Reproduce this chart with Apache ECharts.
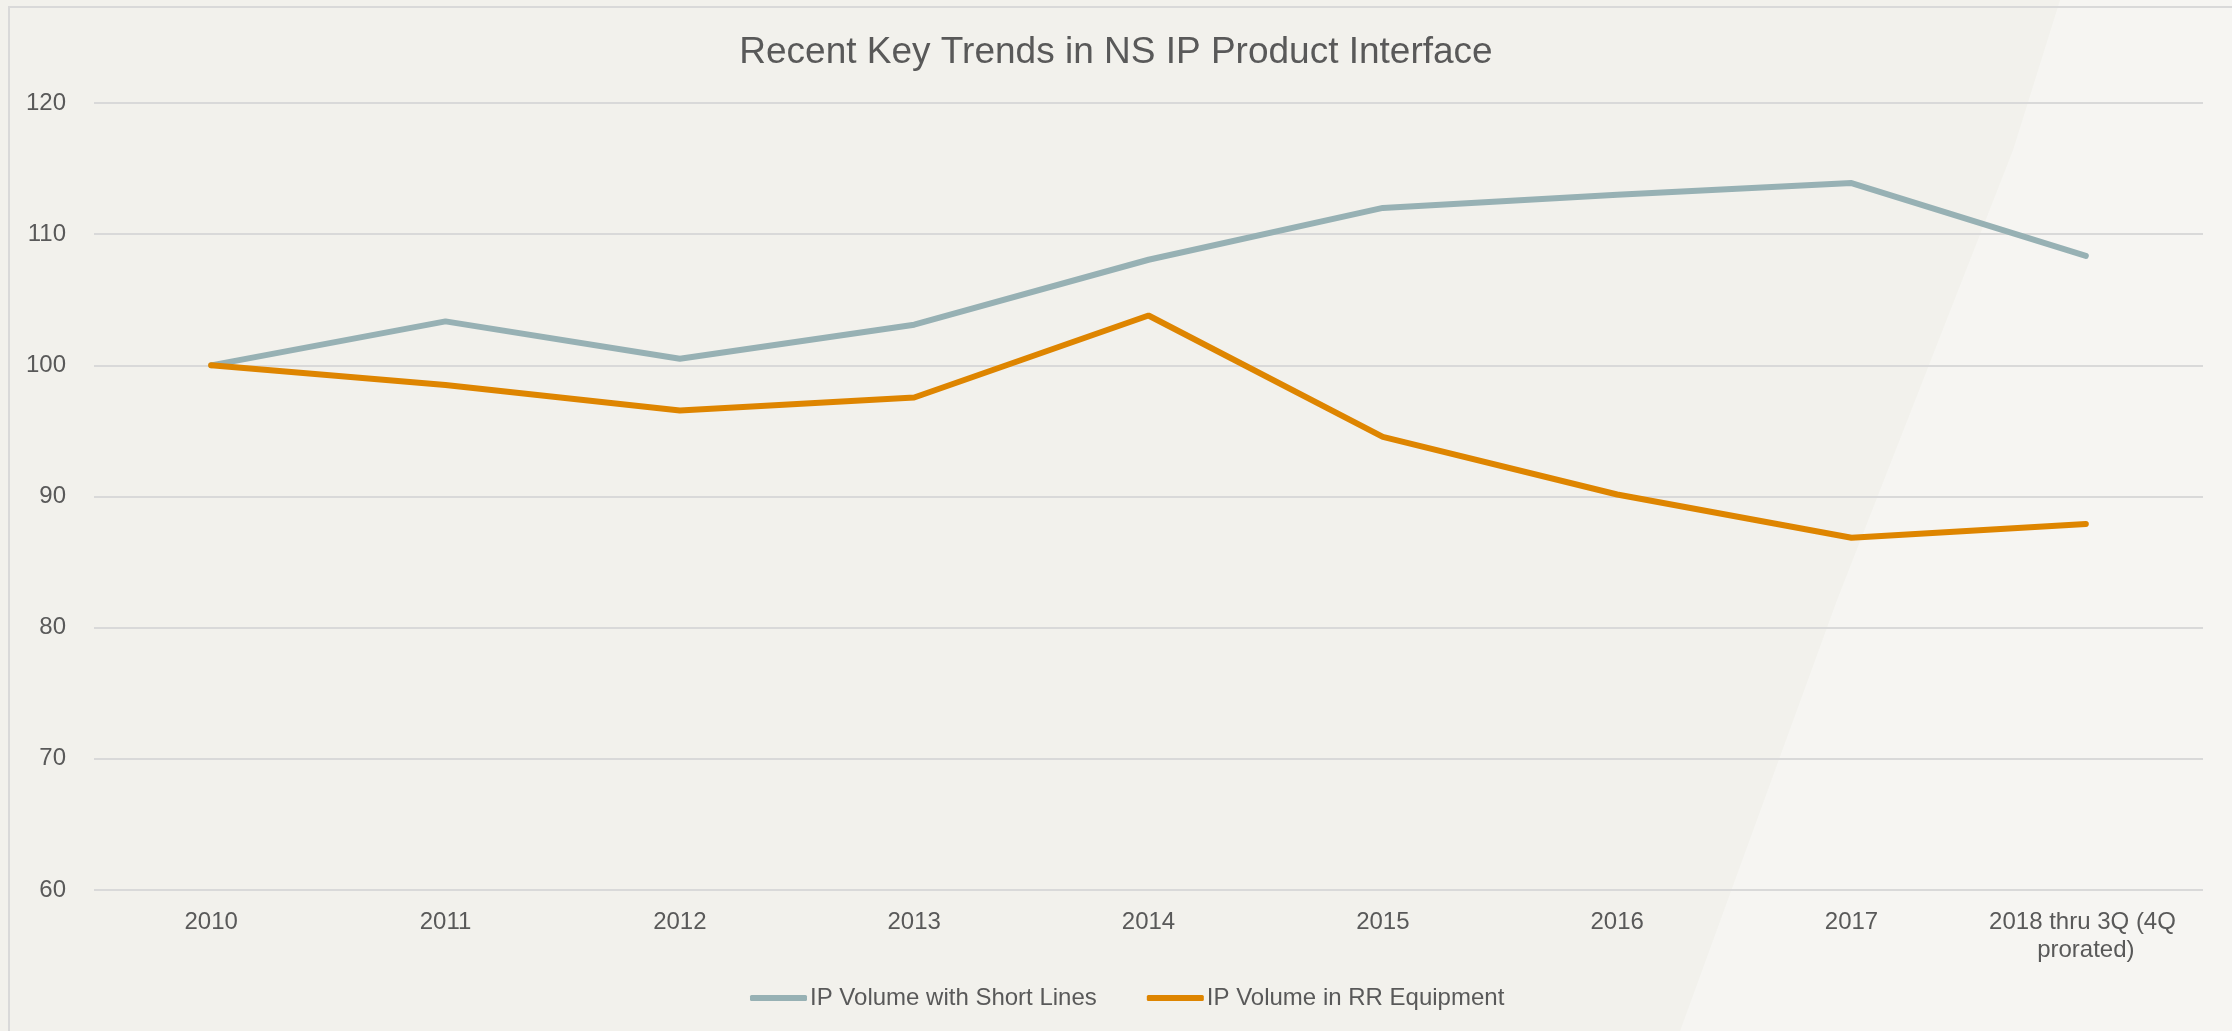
<!DOCTYPE html>
<html>
<head>
<meta charset="utf-8">
<style>
  html, body { margin: 0; padding: 0; background: #F2F1EC; }
  #main { width: 2232px; height: 1031px; }
</style>
<script src="https://cdn.jsdelivr.net/npm/echarts@6/dist/echarts.min.js"></script>
</head>
<body>
<div id="main"></div>
<script>
// categories and index values
const years = ['2010', '2011', '2012', '2013', '2014', '2015', '2016', '2017', '2018 thru 3Q (4Q prorated)'];
const shortLines = [100, 103.35, 100.5, 103.1, 108.05, 112.0, 113.0, 113.9, 108.35];
const rrEquipment = [100, 98.5, 96.55, 97.55, 103.8, 94.55, 90.15, 86.85, 87.9];
const yTicks = { min: 60, max: 120, step: 10 };

const chart = echarts.init(document.getElementById('main'));
const txt = '#595959';
const font = '"Liberation Sans", Arial, sans-serif';

chart.setOption({
    backgroundColor: '#F2F1EC',
    textStyle: { fontFamily: font },
    graphic: [
        {
            // lighter diagonal band on the right side
            type: 'polygon',
            z: -10,
            silent: true,
            shape: {
                points: [[2060, 0], [2232, 0], [2232, 1031], [1680, 1031], [1837, 600], [2013, 150]]
            },
            style: { fill: 'rgba(255,255,255,0.3)' }
        },
        {
            type: 'rect',
            z: -5,
            silent: true,
            shape: { x: 9, y: 7, width: 2400, height: 1200 },
            style: { fill: 'none', stroke: '#D9D9D9', lineWidth: 2 }
        }
    ],
    title: {
        text: 'Recent Key Trends in NS IP Product Interface',
        left: 'center',
        top: 29,
        textStyle: { color: txt, fontSize: 37, fontWeight: 'normal', fontFamily: font }
    },
    legend: {
        bottom: 16,
        left: 745,
        itemWidth: 57,
        itemHeight: 6,
        itemGap: 50,
        icon: 'roundRect',
        textStyle: { color: txt, fontSize: 24, fontFamily: font, padding: [0, 0, 0, -2] },
        data: ['IP Volume with Short Lines', 'IP Volume in RR Equipment']
    },
    grid: {
        left: 94,
        right: 29,
        top: 103,
        bottom: 141,
        containLabel: false
    },
    xAxis: {
        type: 'category',
        boundaryGap: true,
        data: years,
        axisLine: { show: false },
        axisTick: { show: false },
        axisLabel: {
            interval: 0,
            color: txt,
            fontSize: 24,
            fontFamily: font,
            margin: 18,
            width: 220,
            overflow: 'break',
            lineHeight: 28
        }
    },
    yAxis: {
        type: 'value',
        min: yTicks.min,
        max: yTicks.max,
        interval: yTicks.step,
        axisLine: { show: false },
        axisTick: { show: false },
        axisLabel: { color: txt, fontSize: 24, fontFamily: font, margin: 28 },
        splitLine: { lineStyle: { color: '#D9D9D9', width: 2 } }
    },
    series: [
        {
            name: 'IP Volume with Short Lines',
            type: 'line',
            data: shortLines,
            symbol: 'none',
            color: '#97B1B4',
            lineStyle: { width: 6, cap: 'round' }
        },
        {
            name: 'IP Volume in RR Equipment',
            type: 'line',
            data: rrEquipment,
            symbol: 'none',
            color: '#DE8500',
            lineStyle: { width: 6, cap: 'round' }
        }
    ]
});
</script>
</body>
</html>
